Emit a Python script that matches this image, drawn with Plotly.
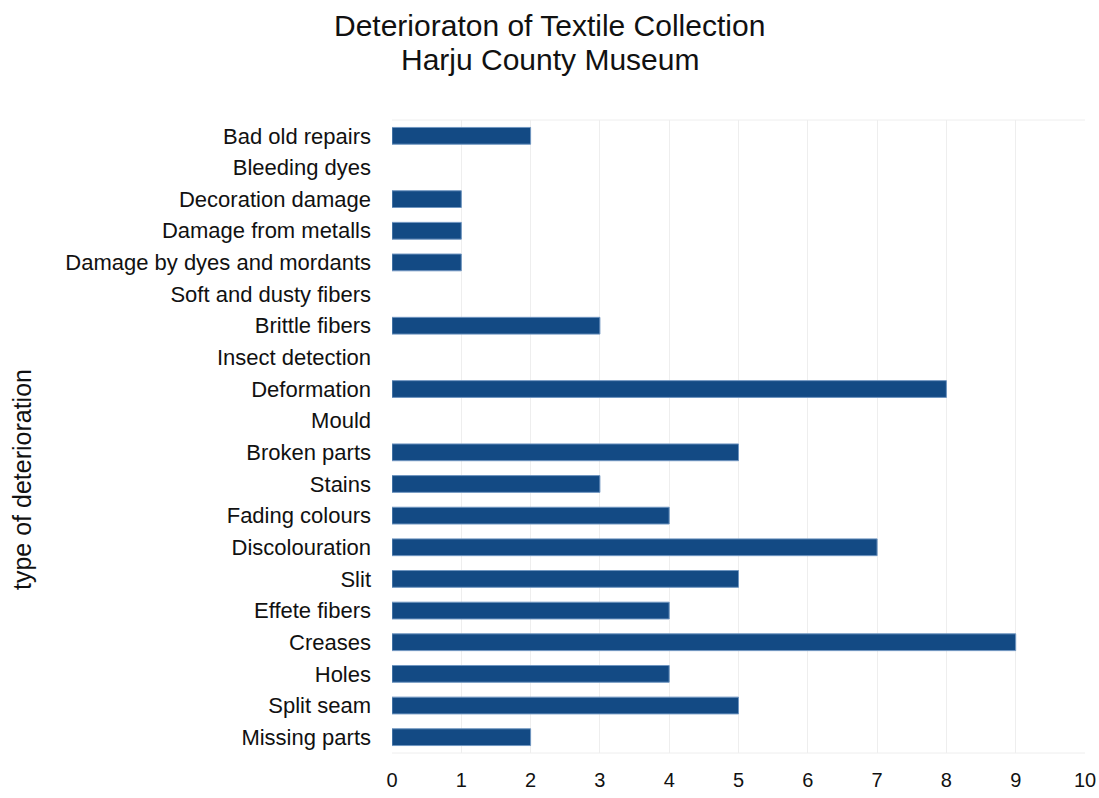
import plotly.graph_objects as go

# Deterioration types, listed bottom to top
categories = [
    "Missing parts", "Split seam", "Holes", "Creases", "Effete fibers", "Slit",
    "Discolouration", "Fading colours", "Stains", "Broken parts", "Mould",
    "Deformation", "Insect detection", "Brittle fibers", "Soft and dusty fibers",
    "Damage by dyes and mordants", "Damage from metalls", "Decoration damage",
    "Bleeding dyes", "Bad old repairs",
]
counts = [2, 5, 4, 9, 4, 5, 7, 4, 3, 5, 0, 8, 0, 3, 0, 1, 1, 1, 0, 2]
x_ticks = list(range(0, 11))

font_family = "Liberation Sans, Arial, sans-serif"
W, H = 1099, 798
ML, MR, MT, MB = 392, 14, 120, 45

fig = go.Figure(
    go.Bar(
        x=counts,
        y=categories,
        orientation="h",
        marker=dict(
            color="#134a84",
            line=dict(color="#6f95c0", width=[1 if v > 0 else 0 for v in counts]),
        ),
        width=0.53,
    )
)

fig.update_layout(
    width=W,
    height=H,
    paper_bgcolor="white",
    plot_bgcolor="white",
    margin=dict(l=ML, r=MR, t=MT, b=MB, autoexpand=False),
    font=dict(family=font_family, size=22, color="#111111"),
    showlegend=False,
)

fig.update_xaxes(
    range=[0, 10],
    tickvals=x_ticks,
    ticktext=[str(v) for v in x_ticks],
    showgrid=True,
    gridcolor="#eeeeee",
    gridwidth=1,
    zeroline=False,
    showline=False,
    ticks="",
    automargin=False,
    ticklabelstandoff=13,
    tickfont=dict(size=20),
)

fig.update_yaxes(
    categoryorder="array",
    categoryarray=categories,
    showgrid=False,
    zeroline=False,
    showline=False,
    ticks="",
    automargin=False,
    ticklabelstandoff=20,
    tickfont=dict(size=22),
)

plot_w = W - ML - MR
plot_h = H - MT - MB

# Two-line title centred on the page
fig.add_annotation(text="Deterioraton of Textile Collection", xref="paper", yref="paper",
                   x=(W / 2 - ML) / plot_w, y=1 + (MT - 25) / plot_h,
                   xanchor="center", yanchor="middle", showarrow=False,
                   font=dict(size=30, family=font_family, color="#111111"))
fig.add_annotation(text="Harju County Museum", xref="paper", yref="paper",
                   x=(W / 2 - ML) / plot_w, y=1 + (MT - 60) / plot_h,
                   xanchor="center", yanchor="middle", showarrow=False,
                   font=dict(size=30, family=font_family, color="#111111"))

# Vertical axis title
fig.add_annotation(text="type of deterioration", xref="paper", yref="paper",
                   x=(22 - ML) / plot_w, y=(H - MB - 480) / plot_h,
                   xanchor="center", yanchor="middle", textangle=-90, showarrow=False,
                   font=dict(size=25, family=font_family, color="#111111"))

# faint frame along the top and bottom of the plotting area
fig.add_shape(type="line", xref="paper", yref="paper", x0=0, x1=1, y0=1, y1=1,
              line=dict(color="#eeeeee", width=1))
fig.add_shape(type="line", xref="paper", yref="paper", x0=0, x1=1, y0=0, y1=0,
              line=dict(color="#eeeeee", width=1))

fig.write_html("out.html")
